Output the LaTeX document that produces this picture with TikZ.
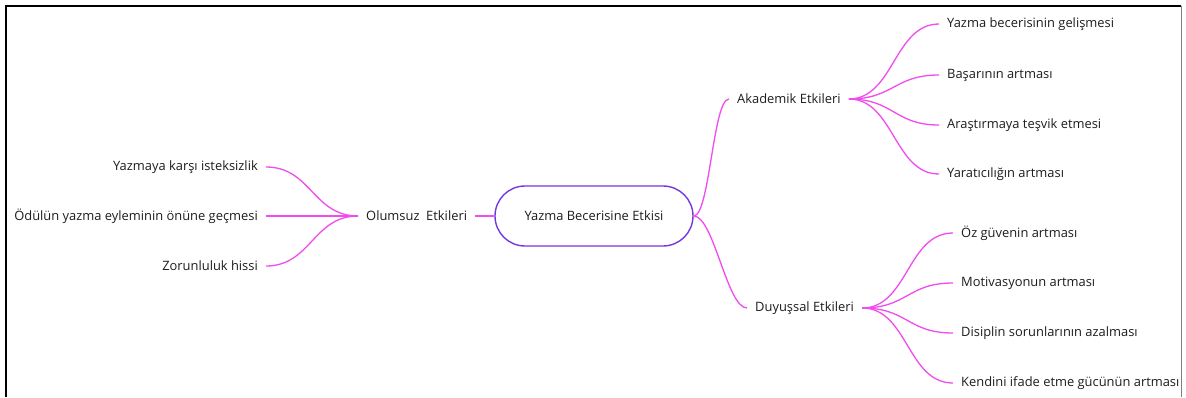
\documentclass[tikz,border=0pt]{standalone}
\usepackage{fontspec}
\setmainfont{Open Sans}
\definecolor{mag}{HTML}{F04CEE}
\definecolor{pur}{HTML}{7438E0}
\definecolor{txt}{HTML}{1E1E1E}
\begin{document}
\begin{tikzpicture}[x=1pt,y=-1pt,
  lbl/.style={font=\fontsize{12.9}{14}\selectfont, text=txt, inner xsep=8pt, inner ysep=2pt},
  br/.style={draw=mag, line width=1.3pt},
  hub/.style={draw=pur, line width=1.4pt, rounded corners=30pt, minimum width=198pt, minimum height=60pt,
    font=\fontsize{12.9}{14}\selectfont, text=txt}
]
\useasboundingbox (0,0) rectangle (1186,397);
\fill[white] (0,0) rectangle (1186,397);
\draw[line width=2pt] (6,397) -- (6,6) -- (1181,6);
\draw[gray, line width=0.8pt] (1181,6) -- (1181,397);

\node[hub] (c) at (594,216) {Yazma Becerisine Etkisi};

\node[lbl, anchor=west] (o) at (358,216) {Olumsuz\ \ Etkileri};
\node[lbl, anchor=east] (l1) at (266,167) {Yazmaya karşı isteksizlik};
\node[lbl, anchor=east] (l2) at (266,216) {Ödülün yazma eyleminin önüne geçmesi};
\node[lbl, anchor=east] (l3) at (266,266) {Zorunluluk hissi};

\node[lbl, anchor=west] (ak) at (729,99) {Akademik Etkileri};
\node[lbl, anchor=west] (a1) at (939,24) {Yazma becerisinin gelişmesi};
\node[lbl, anchor=west] (a2) at (939,75) {Başarının artması};
\node[lbl, anchor=west] (a3) at (939,125) {Araştırmaya teşvik etmesi};
\node[lbl, anchor=west] (a4) at (939,174) {Yaratıcılığın artması};

\node[lbl, anchor=west] (du) at (747,308) {Duyuşsal Etkileri};
\node[lbl, anchor=west] (d1) at (953,233) {Öz güvenin artması};
\node[lbl, anchor=west] (d2) at (953,283) {Motivasyonun artması};
\node[lbl, anchor=west] (d3) at (953,333) {Disiplin sorunlarının azalması};
\node[lbl, anchor=west] (d4) at (953,383) {Kendini ifade etme gücünün artması};

\draw[br] (o.east) -- (c.west);
\foreach \n in {l1,l2,l3}
  \draw[br] (o.west) .. controls +(-45,0) and +(45,0) .. (\n.east);
\draw[br] (c.east) .. controls +(16,0) and +(-16,0) .. (ak.west);
\draw[br] (c.east) .. controls +(20,0) and +(-20,0) .. (du.west);
\foreach \n in {a1,a2,a3,a4}
  \draw[br] (ak.east) .. controls +(45,0) and +(-45,0) .. (\n.west);
\foreach \n in {d1,d2,d3,d4}
  \draw[br] (du.east) .. controls +(46,0) and +(-46,0) .. (\n.west);
\end{tikzpicture}
\end{document}
